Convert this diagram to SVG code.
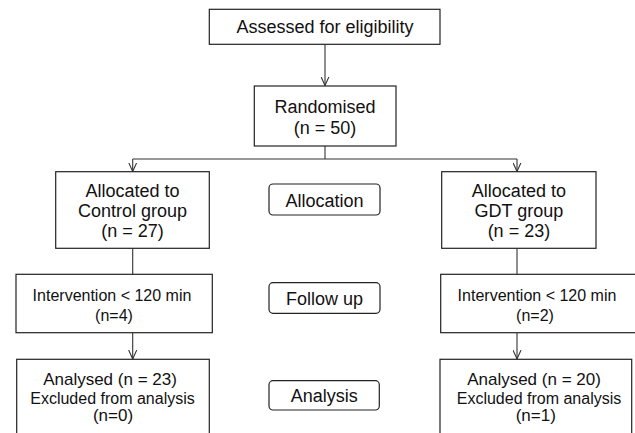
<svg xmlns="http://www.w3.org/2000/svg" width="635" height="433" viewBox="0 0 635 433">
<style>
.box{fill:#fff;stroke:#222;stroke-width:1.2}
.rbox{fill:#fff;stroke:#222;stroke-width:1.2}
.t{font-family:"Liberation Sans",Arial,sans-serif;font-size:18px;fill:#111;text-anchor:middle}
.s{font-size:16px}
.m{font-size:17px}
.c{fill:none;stroke:#333;stroke-width:1.1}
</style>
<defs>
<marker id="arr" viewBox="0 0 10 10" refX="10" refY="5" markerWidth="9" markerHeight="9" markerUnits="userSpaceOnUse" orient="auto">
<path d="M0,0.5 L10,5 L0,9.5" fill="none" stroke="#333" stroke-width="1.2"/>
</marker>
</defs>
<rect width="635" height="433" fill="#fff"/>
<g id="connectors">
<path class="c" d="M325,44.3 V85.5" marker-end="url(#arr)"/>
<path class="c" d="M325,146 V159" stroke-width="2"/>
<path class="c" d="M132.7,159 H517"/>
<path class="c" d="M132.7,159 V171.5" marker-end="url(#arr)"/>
<path class="c" d="M517,159 V171.5" marker-end="url(#arr)"/>
<path class="c" d="M132.7,248.3 V274.3"/>
<path class="c" d="M517,248.3 V274.3"/>
<path class="c" d="M132.7,332.7 V359" marker-end="url(#arr)"/>
<path class="c" d="M517,332.7 V359" marker-end="url(#arr)"/>
</g>
<g id="assessed">
<rect class="box" x="209.3" y="9.3" width="230.7" height="35"/>
<text class="t" x="325" y="33.2">Assessed for eligibility</text>
</g>
<g id="randomised">
<rect class="box" x="254.3" y="86" width="141.7" height="60"/>
<text class="t" x="325" y="112.7">Randomised</text>
<text class="t" x="325" y="134">(n = 50)</text>
</g>
<g id="alloc-control">
<rect class="box" x="55.7" y="171.7" width="153.6" height="76.6"/>
<text class="t" x="132.5" y="196.7">Allocated to</text>
<text class="t" x="132.5" y="216.7">Control group</text>
<text class="t" x="132.5" y="237">(n = 27)</text>
</g>
<g id="allocation">
<rect class="rbox" x="269" y="184" width="111" height="31" rx="4"/>
<text class="t" x="324.5" y="206.5">Allocation</text>
</g>
<g id="alloc-gdt">
<rect class="box" x="441.7" y="171.7" width="154.3" height="76.6"/>
<text class="t" x="518.9" y="196.7">Allocated to</text>
<text class="t" x="518.9" y="216.7">GDT group</text>
<text class="t" x="518.9" y="237">(n = 23)</text>
</g>
<g id="interv-control">
<rect class="box" x="16" y="274.3" width="196.3" height="58.4"/>
<text class="t s" x="112" y="301.3">Intervention &lt; 120 min</text>
<text class="t s" x="114" y="321">(n=4)</text>
</g>
<g id="followup">
<rect class="rbox" x="269" y="282.7" width="111" height="30.6" rx="4"/>
<text class="t" x="324.5" y="305.3">Follow up</text>
</g>
<g id="interv-gdt">
<rect class="box" x="440.7" y="274.3" width="196.3" height="58.4"/>
<text class="t s" x="537" y="301.3">Intervention &lt; 120 min</text>
<text class="t s" x="535" y="321">(n=2)</text>
</g>
<g id="analysed-control">
<rect class="box" x="16.7" y="359.3" width="192.6" height="90"/>
<text class="t m" x="110" y="385">Analysed (n = 23)</text>
<text class="t s" x="112.5" y="404">Excluded from analysis</text>
<text class="t m" x="113" y="421">(n=0)</text>
</g>
<g id="analysis">
<rect class="rbox" x="269" y="380.7" width="110.3" height="29.3" rx="4"/>
<text class="t" x="324.2" y="401.7">Analysis</text>
</g>
<g id="analysed-gdt">
<rect class="box" x="440" y="359.3" width="191.7" height="90"/>
<text class="t m" x="534" y="385">Analysed (n = 20)</text>
<text class="t s" x="539" y="404">Excluded from analysis</text>
<text class="t m" x="535.8" y="421">(n=1)</text>
</g>
</svg>
